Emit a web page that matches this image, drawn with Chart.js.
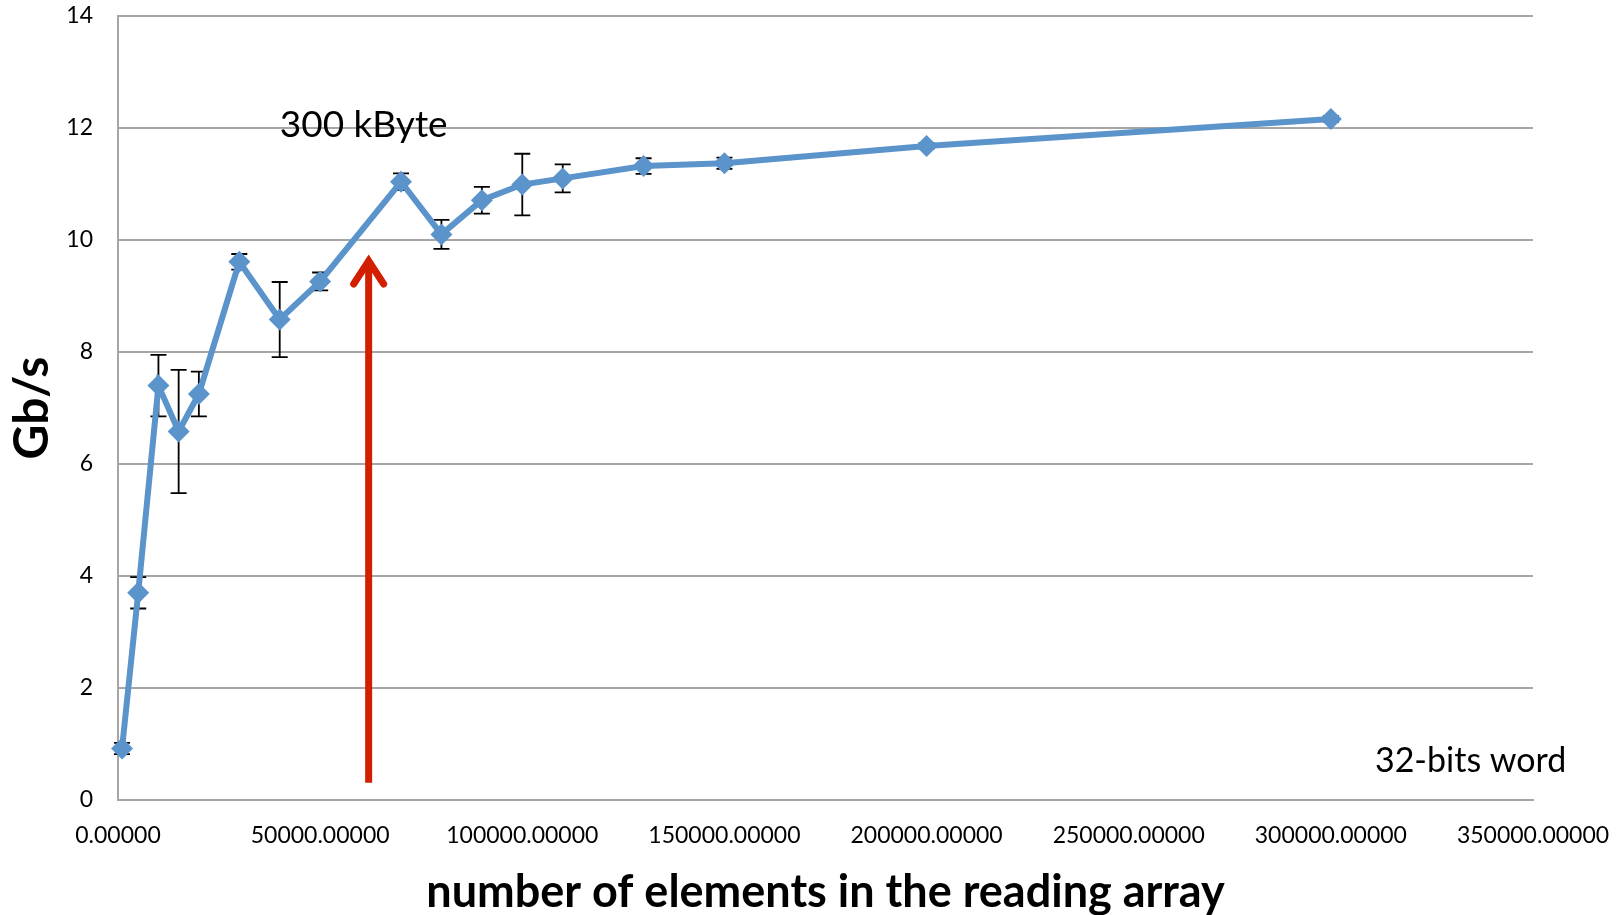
<!DOCTYPE html>
<html><head><meta charset="utf-8">
<script src="https://cdn.jsdelivr.net/npm/chart.js@4.4.1/dist/chart.umd.min.js"></script>
<style>html,body{margin:0;padding:0;background:#fff;overflow:hidden}#wrap{width:1619px;height:915px}</style>
</head><body><div id="wrap"><canvas id="c" width="1619" height="915"></canvas></div>
<script>
// ---- data ----
const elements = [1000, 5000, 10000, 15000, 20000, 30000, 40000, 50000, 70000, 80000, 90000, 100000, 110000, 130000, 150000, 200000, 300000];
const gbps     = [0.92, 3.70, 7.40, 6.58, 7.25, 9.61, 8.58, 9.26, 11.04, 10.10, 10.71, 10.99, 11.10, 11.32, 11.37, 11.68, 12.16];
const gbpsErr  = [0.10, 0.28, 0.55, 1.10, 0.40, 0.14, 0.67, 0.16, 0.15, 0.26, 0.24, 0.55, 0.25, 0.14, 0.10, 0.05, 0.05];
const xTicks = [0, 50000, 100000, 150000, 200000, 250000, 300000, 350000];
const yTicks = [0, 2, 4, 6, 8, 10, 12, 14];
const xTitle = 'number of elements in the reading array';
const yTitle = 'Gb/s';
// annotations (data coordinates)
const cacheArrow = {x: 62000, from: 0.31, to: 9.625};
const cacheLabel = {text: '300 kByte', x: 40000, y: 11.84};
const wordLabel = {text: '32-bits word', x: 310900, y: 0.5};

const BLUE = '#5b93cb';
const GRID = '#a6a6a6';
const RED = '#d21f00';

const errorBars = {
  id: 'errorBars',
  beforeDatasetsDraw(chart) {
    const {ctx, scales: {x, y}} = chart;
    ctx.save();
    ctx.strokeStyle = '#000';
    ctx.lineWidth = 1.8;
    elements.forEach((v, i) => {
      const px = x.getPixelForValue(v);
      const top = y.getPixelForValue(gbps[i] + gbpsErr[i]);
      const bot = y.getPixelForValue(gbps[i] - gbpsErr[i]);
      ctx.beginPath();
      ctx.moveTo(px, top); ctx.lineTo(px, bot);
      ctx.moveTo(px - 8, top); ctx.lineTo(px + 8, top);
      ctx.moveTo(px - 8, bot); ctx.lineTo(px + 8, bot);
      ctx.stroke();
    });
    ctx.restore();
  }
};

const notes = {
  id: 'notes',
  afterDatasetsDraw(chart) {
    const {ctx, scales: {x, y}} = chart;
    ctx.save();
    const ax = x.getPixelForValue(cacheArrow.x);
    const ay0 = y.getPixelForValue(cacheArrow.from);
    const ay1 = y.getPixelForValue(cacheArrow.to);
    ctx.strokeStyle = RED;
    ctx.lineWidth = 7;
    ctx.lineCap = 'butt';
    ctx.beginPath(); ctx.moveTo(ax, ay0); ctx.lineTo(ax, ay1 + 2); ctx.stroke();
    ctx.lineCap = 'round'; ctx.lineJoin = 'miter';
    ctx.beginPath(); ctx.moveTo(ax - 15, ay1 + 23); ctx.lineTo(ax, ay1); ctx.lineTo(ax + 15, ay1 + 23); ctx.stroke();
    ctx.fillStyle = '#000';
    ctx.textBaseline = 'alphabetic';
    ctx.textAlign = 'left';
    ctx.font = '37px Lato';
    ctx.fillText(cacheLabel.text, x.getPixelForValue(cacheLabel.x), y.getPixelForValue(cacheLabel.y));
    ctx.font = '34px Lato';
    ctx.fillText(wordLabel.text, x.getPixelForValue(wordLabel.x), y.getPixelForValue(wordLabel.y));
    ctx.restore();
  }
};

new Chart(document.getElementById('c'), {
  type: 'scatter',
  data: {
    datasets: [{
      data: elements.map((v, i) => ({x: v, y: gbps[i]})),
      showLine: true,
      borderColor: BLUE,
      borderWidth: 6,
      backgroundColor: BLUE,
      pointStyle: 'rectRot',
      pointRadius: 11,
      pointHoverRadius: 11,
      pointBackgroundColor: BLUE,
      pointBorderColor: BLUE,
      pointBorderWidth: 0,
      tension: 0,
      clip: false
    }]
  },
  options: {
    responsive: false,
    animation: false,
    devicePixelRatio: 1,
    layout: {autoPadding: false, padding: {top: 16, right: 86, left: 0, bottom: 0}},
    plugins: {legend: {display: false}, tooltip: {enabled: false}},
    scales: {
      x: {
        type: 'linear', min: 0, max: 350000,
        afterBuildTicks: s => { s.ticks = xTicks.map(v => ({value: v})); },
        afterFit: s => { s.height = 115; s.paddingLeft = 0; s.paddingRight = 0; },
        grid: {display: false, drawTicks: false},
        border: {display: true, color: GRID, width: 2},
        ticks: {padding: 22, color: '#000', font: {family: 'Lato', size: 23}, maxRotation: 0,
                callback: v => Number(v).toFixed(5)},
        title: {display: true, text: xTitle, color: '#000', font: {family: 'Lato', size: 45, weight: 'bold'}, padding: {top: 0, bottom: -4}}
      },
      y: {
        type: 'linear', min: 0, max: 14,
        afterBuildTicks: s => { s.ticks = yTicks.map(v => ({value: v})); },
        afterFit: s => { s.width = 118; s.paddingTop = 0; s.paddingBottom = 0; },
        grid: {color: GRID, lineWidth: 2, drawTicks: false},
        border: {display: true, color: GRID, width: 2},
        ticks: {padding: 25, color: '#000', font: {family: 'Lato', size: 23}},
        title: {display: true, text: yTitle, color: '#000', font: {family: 'Lato', size: 48, weight: 'bold'}, padding: {top: 4, bottom: 0}}
      }
    }
  },
  plugins: [errorBars, notes]
});
</script></body></html>
